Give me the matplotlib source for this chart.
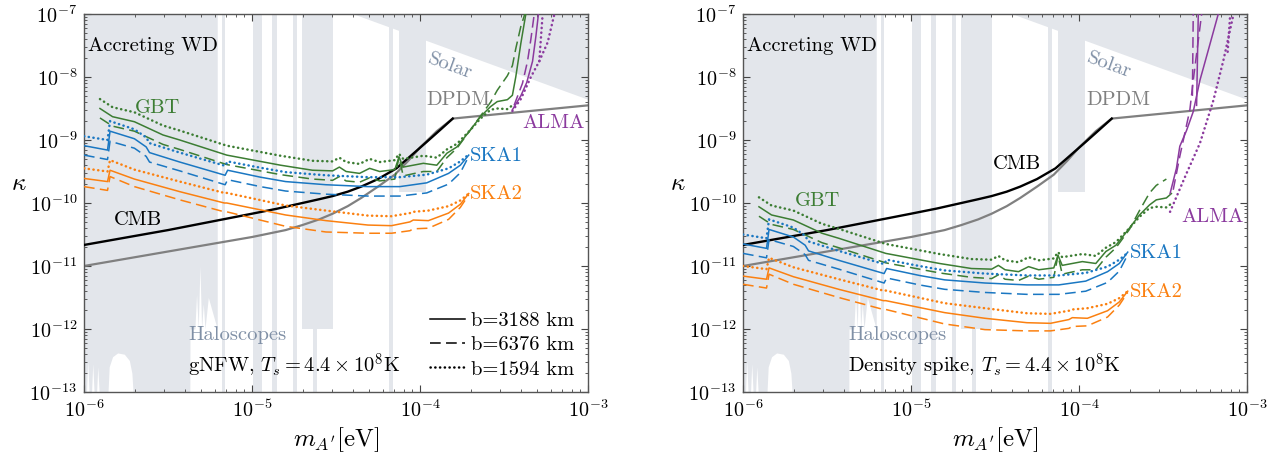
import numpy as np
import matplotlib
matplotlib.use("Agg")
import matplotlib.pyplot as plt
from matplotlib.lines import Line2D
from matplotlib.ticker import FixedLocator

plt.rcParams.update({
    "font.family": "serif",
    "font.serif": ["cmr10"],
    "mathtext.fontset": "cm",
    "axes.formatter.use_mathtext": True,
    "axes.unicode_minus": False,
})

# ── colours ──────────────────────────────────────────────────────────────────
SHADE = "#e3e6eb"
GREEN = "#3c7d33"
BLUE = "#1a77c2"
ORANGE = "#fb8010"
PURPLE = "#8b3a9e"
DPDM_C = "#808080"
HALO_C = "#8090a6"
TXT = 14.8

# ── excluded regions (log10 values) ──────────────────────────────────────────
halo_logm = [-6.0, -5.985, -5.978, -5.97, -5.955, -5.948, -5.94, -5.925, -5.918,
             -5.91, -5.857, -5.85, -5.83, -5.80, -5.76, -5.73, -5.715, -5.708,
             -5.37, -5.369, -5.34, -5.33, -5.32, -5.31, -5.30, -5.29, -5.28, -5.26, -5.207]
halo_logk = [-13.0, -13.0, -12.5, -13.0, -13.0, -12.55, -13.0, -13.0, -12.6,
             -13.0, -13.0, -12.6, -12.44, -12.38, -12.40, -12.5, -12.7, -13.0,
             -13.0, -12.0, -12.0, -11.45, -12.0, -11.0, -12.0, -11.6, -12.0, -11.5, -12.0]
strip_lo = [-5.180, -4.995, -4.883, -4.758, -4.703, -4.634, -4.183, -4.125]
strip_hi = [-5.161, -4.940, -4.854, -4.730, -4.518, -4.616, -4.161, -3.964]
strip_bot = [-13.0, -13.0, -13.0, -13.0, -12.0, -13.0, -13.0, -9.82]
solar_logm = [-4.40, -3.0, -3.0]
solar_logk = [-7.0, -8.36, -7.0]

# ── cosmological bounds ──────────────────────────────────────────────────────
cmb_logm = [-6.0, -5.5, -5.0, -4.85, -4.7, -4.6, -4.52, -4.43, -4.35, -4.25,
            -4.14, -4.05, -3.96, -3.88, -3.805]
cmb_logk = [-10.666, -10.43, -10.17, -10.09, -10.0, -9.94, -9.89, -9.82, -9.74, -9.62,
            -9.45, -9.24, -9.03, -8.84, -8.66]
dpdm_logm = [-6.0, -5.5, -5.0, -4.8, -4.7, -4.6, -4.52, -4.43, -4.35, -4.25,
             -4.15, -4.07, -4.0, -3.9, -3.805, -3.0]
dpdm_logk = [-11.0, -10.77, -10.54, -10.43, -10.35, -10.26, -10.17, -10.05, -9.92, -9.74,
             -9.55, -9.33, -9.12, -8.86, -8.66, -8.45]

# ── SKA1 ─────────────────────────────────────────────────────────────────────
ska1_logm = [-6.0, -5.86, -5.845, -5.70, -5.63, -5.61, -5.43, -5.16, -5.145,
             -4.95, -4.80, -4.56, -4.31, -4.12, -3.96, -3.83, -3.76, -3.71]
ska1_nfw_solid = [-9.09, -9.16, -8.86, -8.98, -9.11, -9.20, -9.35, -9.56, -9.48,
                  -9.59, -9.66, -9.71, -9.74, -9.74, -9.68, -9.53, -9.40, -9.24]
ska1_nfw_dashed = [-9.24, -9.31, -9.02, -9.13, -9.26, -9.35, -9.49, -9.71, -9.63,
                   -9.74, -9.81, -9.86, -9.89, -9.89, -9.84, -9.70, -9.52, -9.26]
ska1_nfw_dotted = [-8.94, -9.00, -8.70, -8.83, -8.96, -9.05, -9.20, -9.41, -9.34,
                   -9.44, -9.51, -9.56, -9.59, -9.59, -9.55, -9.45, -9.34, -9.23]
ska1_spk_solid = [-10.65, -10.72, -10.42, -10.54, -10.67, -10.76, -10.91, -11.12, -11.04,
                  -11.15, -11.22, -11.27, -11.30, -11.30, -11.24, -11.09, -10.96, -10.78]
ska1_spk_dashed = [-10.80, -10.87, -10.58, -10.69, -10.82, -10.91, -11.05, -11.27, -11.19,
                   -11.30, -11.37, -11.42, -11.45, -11.45, -11.40, -11.26, -11.08, -10.82]
ska1_spk_dotted = [-10.50, -10.56, -10.26, -10.39, -10.52, -10.61, -10.76, -10.97, -10.90,
                   -11.00, -11.07, -11.12, -11.15, -11.15, -11.11, -11.01, -10.90, -10.79]

# ── SKA2 ─────────────────────────────────────────────────────────────────────
ska2_logm = [-6.0, -5.86, -5.845, -5.70, -5.43, -5.165, -5.15, -4.80, -4.56,
             -4.31, -4.17, -4.06, -4.04, -3.95, -3.83, -3.76, -3.71]
ska2_nfw_solid = [-9.61, -9.66, -9.48, -9.62, -9.82, -10.0, -10.0, -10.19, -10.28,
                  -10.35, -10.36, -10.30, -10.27, -10.28, -10.16, -10.02, -9.85]
ska2_nfw_dashed = [-9.74, -9.80, -9.58, -9.74, -9.95, -10.14, -10.14, -10.37, -10.46,
                   -10.48, -10.48, -10.44, -10.41, -10.40, -10.26, -10.07, -9.87]
ska2_nfw_dotted = [-9.45, -9.50, -9.32, -9.47, -9.66, -9.84, -9.84, -10.04, -10.12,
                   -10.20, -10.21, -10.16, -10.14, -10.12, -10.05, -9.96, -9.85]
ska2_spk_solid = [-11.16, -11.21, -11.03, -11.17, -11.37, -11.55, -11.55, -11.74, -11.83,
                  -11.90, -11.91, -11.85, -11.82, -11.83, -11.71, -11.57, -11.40]
ska2_spk_dashed = [-11.29, -11.35, -11.13, -11.29, -11.50, -11.69, -11.69, -11.92, -12.01,
                   -12.03, -12.03, -11.99, -11.96, -11.95, -11.81, -11.62, -11.42]
ska2_spk_dotted = [-11.00, -11.05, -10.87, -11.02, -11.21, -11.39, -11.39, -11.59, -11.67,
                   -11.75, -11.76, -11.71, -11.69, -11.67, -11.60, -11.51, -11.40]

# ── GBT ──────────────────────────────────────────────────────────────────────
gbt_logm = [-5.905, -5.83, -5.70, -5.53, -5.43, -5.15, -4.95, -4.83, -4.64, -4.52,
            -4.48, -4.44, -4.36, -4.30, -4.24, -4.15, -4.125, -4.10, -3.98, -3.90,
            -3.84, -3.78, -3.70, -3.64, -3.58, -3.54, -3.48, -3.45, -3.43, -3.40, -3.37]
gbt_nfw_solid = [-8.50, -8.63, -8.71, -8.92, -9.00, -9.24, -9.34, -9.40, -9.48, -9.49,
                 -9.43, -9.50, -9.53, -9.45, -9.50, -9.47, -9.27, -9.43, -9.37, -9.40,
                 -9.21, -9.11, -8.84, -8.63, -8.47, -8.39, -8.36, -8.29, -8.00, -7.47, -7.0]
gbt_nfw_dashed = [-8.65, -8.78, -8.86, -9.07, -9.15, -9.39, -9.49, -9.55, -9.62, -9.64,
                  -9.58, -9.65, -9.67, -9.60, -9.65, -9.62, -9.27, -9.57, -9.50, -9.50,
                  -9.28, -9.13, -8.84, -8.62, -8.40, -8.21, -7.98, -7.82, -7.55, -7.20, -6.95]
gbt_nfw_dotted = [-8.35, -8.48, -8.56, -8.77, -8.85, -9.09, -9.19, -9.25, -9.33, -9.34,
                  -9.28, -9.35, -9.38, -9.30, -9.35, -9.32, -9.22, -9.30, -9.25, -9.28,
                  -9.15, -9.06, -8.84, -8.66, -8.52, -8.50, -8.51, -8.45]
gbt_spk_solid = [-10.06, -10.19, -10.27, -10.48, -10.56, -10.80, -10.90, -10.96, -11.04, -11.05,
                 -10.99, -11.06, -11.09, -11.01, -11.06, -11.03, -10.83, -10.99, -10.93, -10.96,
                 -10.77, -10.67, -10.40, -10.19, -10.03, -9.95, -9.92, -9.85]
gbt_spk_dashed = [-10.21, -10.34, -10.42, -10.63, -10.71, -10.95, -11.05, -11.11, -11.18, -11.20,
                  -11.14, -11.21, -11.23, -11.16, -11.21, -11.18, -10.83, -11.13, -11.06, -11.06,
                  -10.86, -10.71, -10.42, -10.12, -9.84, -9.72, -9.62]
gbt_spk_dotted = [-9.91, -10.04, -10.12, -10.33, -10.41, -10.65, -10.75, -10.81, -10.89, -10.90,
                  -10.84, -10.91, -10.94, -10.86, -10.91, -10.88, -10.78, -10.86, -10.81, -10.84,
                  -10.71, -10.62, -10.40, -10.22, -10.08, -10.06, -10.07, -10.01]

# ── ALMA (two branches each) ─────────────────────────────────────────────────
alma_nfw_solid_m = [[-3.45, -3.40, -3.365, -3.33, -3.31, -3.295]]
alma_nfw_solid_k = [[-8.52, -8.30, -8.09, -7.75, -7.35, -7.0]]
alma_nfw_dashed_m = [[-3.44, -3.39, -3.36, -3.34, -3.32]]
alma_nfw_dashed_k = [[-8.45, -8.10, -7.75, -7.40, -7.0]]
alma_nfw_dotted_m = [[-3.45, -3.40, -3.34, -3.29, -3.24, -3.20], [-3.29, -3.27]]
alma_nfw_dotted_k = [[-8.54, -8.35, -8.00, -7.75, -7.45, -7.0], [-7.75, -7.0]]

alma_spk_solid_m = [[-3.458, -3.42, -3.40, -3.36, -3.32, -3.28, -3.23, -3.171], [-3.30, -3.29]]
alma_spk_solid_k = [[-9.85, -9.45, -9.10, -8.85, -8.55, -8.05, -7.57, -7.0], [-8.45, -7.0]]
alma_spk_dashed_m = [[-3.439, -3.40, -3.34, -3.32, -3.27], [-3.325, -3.32]]
alma_spk_dashed_k = [[-9.79, -9.26, -8.52, -8.05, -7.0], [-8.3, -7.0]]
alma_spk_dotted_m = [[-3.458, -3.36, -3.28, -3.20, -3.14, -3.08], [-3.115, -3.10]]
alma_spk_dotted_k = [[-10.14, -9.53, -9.05, -8.37, -7.73, -7.0], [-7.6, -7.0]]

baselines = ["b=3188 km", "b=6376 km", "b=1594 km"]

STYLE = {
    "solid": dict(lw=1.1, ls="-"),
    "dashed": dict(lw=1.1, ls=(0, (7, 3.5))),
    "dotted": dict(lw=1.8, ls=(0, (0.1, 1.8)), dash_capstyle="round"),
}


def p(v):
    return 10.0 ** np.asarray(v, dtype=float)


def shade(ax):
    kw = dict(color=SHADE, lw=0, zorder=0)
    ax.fill_between(p(halo_logm), p(halo_logk), 1e-7, **kw)
    for lo, hi, bot in zip(strip_lo, strip_hi, strip_bot):
        ax.fill_between(p([lo, hi]), p([bot, bot]), 1e-7, **kw)
    ax.fill(p(solar_logm), p(solar_logk), **kw)


def bounds(ax):
    ax.plot(p(dpdm_logm), p(dpdm_logk), color=DPDM_C, lw=1.6, zorder=2)
    ax.plot(p(cmb_logm), p(cmb_logk), color="black", lw=1.7, zorder=3)


def curves(ax, logm, sets, color):
    for style, logk in zip(["solid", "dashed", "dotted"], sets):
        n = len(logk)
        ax.plot(p(logm[:n]), p(logk), color=color, zorder=4, **STYLE[style])


def alma(ax, ms, ks):
    for style, mm, kk in zip(["solid", "dashed", "dotted"], ms, ks):
        for m, k in zip(mm, kk):
            ax.plot(p(m), p(k), color=PURPLE, zorder=4, **STYLE[style])


def minor_ticks(lo, hi):
    return [d * 10.0 ** e for e in range(lo, hi) for d in range(2, 10)]


def frame(ax):
    ax.set_xscale("log")
    ax.set_yscale("log")
    ax.set_xlim(1e-6, 1e-3)
    ax.set_ylim(1e-13, 1e-7)
    ax.xaxis.set_major_locator(FixedLocator(p(np.arange(-6, -2))))
    ax.yaxis.set_major_locator(FixedLocator(p(np.arange(-13, -6))))
    ax.xaxis.set_minor_locator(FixedLocator(minor_ticks(-6, -3)))
    ax.yaxis.set_minor_locator(FixedLocator(minor_ticks(-13, -7)))
    ax.tick_params(which="both", direction="in", top=True, right=True,
                   color="#444444", labelsize=14.5)
    ax.tick_params(which="major", length=5, width=0.8, pad=5)
    ax.tick_params(which="minor", length=2.5, width=0.6, labelbottom=False,
                   labelleft=False)
    for s in ax.spines.values():
        s.set_color("#555555")
        s.set_linewidth(1.0)
    ax.set_xlabel(r"$m_{A'}[\mathrm{eV}]$", fontsize=18, labelpad=3)
    ax.set_ylabel(r"$\kappa$", fontsize=18, rotation=0)
    ax.yaxis.set_label_coords(-0.13, 0.52)


def label(ax, x, y, s, color="black", ha="left", size=TXT, **kw):
    ax.text(x, y, s, color=color, ha=ha, va="center", fontsize=size,
            transform=ax.transAxes, zorder=6, **kw)


fig = plt.figure(figsize=(12.84, 4.59), dpi=100)
axL = fig.add_axes([84 / 1284, 67 / 459, 504 / 1284, 378 / 459])
axR = fig.add_axes([743 / 1284, 67 / 459, 504 / 1284, 378 / 459])

# ── left panel: gNFW ─────────────────────────────────────────────────────────
shade(axL)
bounds(axL)
curves(axL, gbt_logm, [gbt_nfw_solid, gbt_nfw_dashed, gbt_nfw_dotted], GREEN)
curves(axL, ska1_logm, [ska1_nfw_solid, ska1_nfw_dashed, ska1_nfw_dotted], BLUE)
curves(axL, ska2_logm, [ska2_nfw_solid, ska2_nfw_dashed, ska2_nfw_dotted], ORANGE)
alma(axL, [alma_nfw_solid_m, alma_nfw_dashed_m, alma_nfw_dotted_m],
     [alma_nfw_solid_k, alma_nfw_dashed_k, alma_nfw_dotted_k])
frame(axL)

label(axL, 0.008, 0.915, "Accreting WD")
label(axL, 0.146, 0.752, "GBT", GREEN, ha="center")
label(axL, 0.766, 0.623, "SKA1", BLUE)
label(axL, 0.766, 0.523, "SKA2", ORANGE)
label(axL, 0.870, 0.712, "ALMA", PURPLE)
label(axL, 0.680, 0.772, "DPDM", DPDM_C)
label(axL, 0.726, 0.862, "Solar", HALO_C, ha="center", rotation=-20)
label(axL, 0.108, 0.455, "CMB", ha="center")
label(axL, 0.207, 0.152, "Haloscopes", HALO_C)
label(axL, 0.207, 0.068, r"gNFW, $T_s = 4.4\times10^8$K")

handles = [Line2D([], [], color="black", **STYLE[s]) for s in ["solid", "dashed", "dotted"]]
axL.legend(handles, baselines, loc="lower right", frameon=False, fontsize=TXT,
           handlelength=1.7, handletextpad=0.3, labelspacing=0.28,
           borderaxespad=0.3, borderpad=0.35)

# ── right panel: density spike ───────────────────────────────────────────────
shade(axR)
bounds(axR)
curves(axR, gbt_logm, [gbt_spk_solid, gbt_spk_dashed, gbt_spk_dotted], GREEN)
curves(axR, ska1_logm, [ska1_spk_solid, ska1_spk_dashed, ska1_spk_dotted], BLUE)
curves(axR, ska2_logm, [ska2_spk_solid, ska2_spk_dashed, ska2_spk_dotted], ORANGE)
alma(axR, [alma_spk_solid_m, alma_spk_dashed_m, alma_spk_dotted_m],
     [alma_spk_solid_k, alma_spk_dashed_k, alma_spk_dotted_k])
frame(axR)

label(axR, 0.008, 0.915, "Accreting WD")
label(axR, 0.147, 0.504, "GBT", GREEN, ha="center")
label(axR, 0.543, 0.604, "CMB", ha="center")
label(axR, 0.681, 0.772, "DPDM", DPDM_C)
label(axR, 0.727, 0.864, "Solar", HALO_C, ha="center", rotation=-20)
label(axR, 0.870, 0.464, "ALMA", PURPLE)
label(axR, 0.768, 0.367, "SKA1", BLUE)
label(axR, 0.768, 0.265, "SKA2", ORANGE)
label(axR, 0.209, 0.152, "Haloscopes", HALO_C)
label(axR, 0.209, 0.068, r"Density spike, $T_s = 4.4\times10^8$K")

fig.savefig("out.png", dpi=100)
